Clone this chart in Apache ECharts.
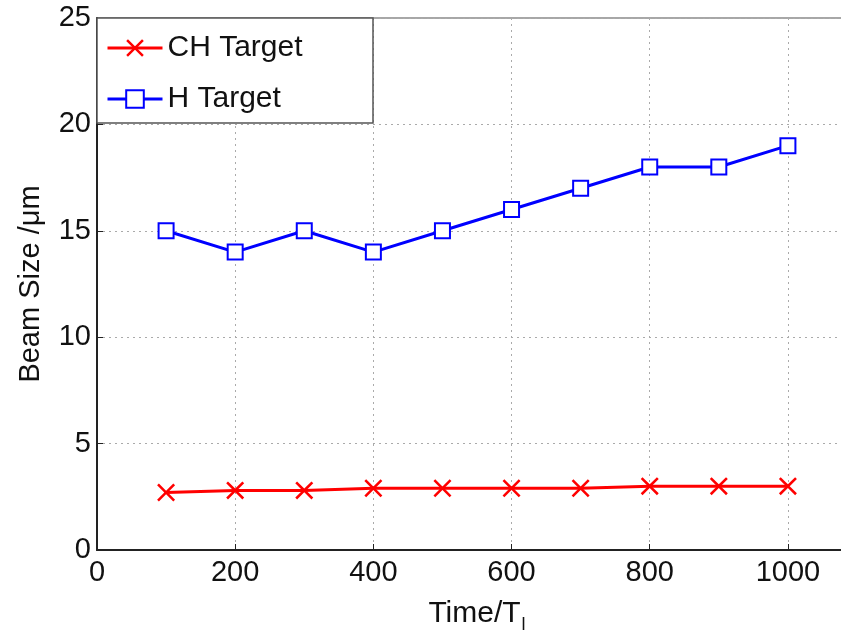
<!DOCTYPE html>
<html>
<head>
<meta charset="utf-8">
<script src="https://cdn.jsdelivr.net/npm/echarts@6/dist/echarts.min.js"></script>
<style>html,body{margin:0;padding:0;background:#fff;}#c{width:841px;height:630px;}</style>
</head>
<body>
<div id="c"></div>
<script>
var timeValues = [100, 200, 300, 400, 500, 600, 700, 800, 900, 1000];
var chTarget = [2.7, 2.8, 2.8, 2.9, 2.9, 2.9, 2.9, 3.0, 3.0, 3.0];
var hTarget = [15, 14, 15, 14, 15, 16, 17, 18, 18, 19];
var seriesNames = ['CH Target', 'H Target'];
var xAxisName = 'Time/T';
var yAxisName = 'Beam Size /\u03bcm';

function pairs(xs, ys) { return xs.map(function (x, i) { return [x, ys[i]]; }); }

var FONT = '"Liberation Sans", Arial, sans-serif';
var crossPath = 'path://M0,1L1,0L5,4L9,0L10,1L6,5L10,9L9,10L5,6L1,10L0,9L4,5Z';

var chart = echarts.init(document.getElementById('c'), null, {renderer: 'canvas'});
chart.setOption({
  backgroundColor: '#fff',
  animation: false,
  textStyle: {fontFamily: FONT},
  grid: {left: 97, top: 18, bottom: 80, width: 760, show: true, borderColor: '#8a8a8a', borderWidth: 1.5,
    containLabel: false, outerBoundsMode: 'none'},
  graphic: [{
    type: 'rect', z: 5, silent: true,
    shape: {x: 97, y: 18, width: 276, height: 105},
    style: {fill: '#fff', stroke: '#555', lineWidth: 1.5}
  }],
  legend: {
    orient: 'vertical', left: 101, top: 28, z: 10,
    itemWidth: 55, itemHeight: 22, itemGap: 21,
    lineStyle: {width: 3},
    textStyle: {fontSize: 30, color: '#111', fontFamily: FONT, lineHeight: 30},
    data: seriesNames
  },
  xAxis: {
    type: 'value', min: 0, max: 1100, interval: 200,
    name: xAxisName + '{sub|l}', nameLocation: 'middle', nameGap: 44,
    nameTextStyle: {fontSize: 30, color: '#111', fontFamily: FONT,
      rich: {sub: {fontSize: 18, color: '#111', fontFamily: FONT, padding: [22, 0, 0, 1]}}},
    axisLine: {show: true, lineStyle: {color: '#222', width: 2}},
    axisTick: {show: true, inside: true, length: 6, lineStyle: {color: '#222'}},
    axisLabel: {fontSize: 29, color: '#111', margin: 8, showMaxLabel: false, fontFamily: FONT,
      formatter: function (v) { return String(v); }},
    splitLine: {show: true, lineStyle: {color: '#aaa', type: [2, 4], width: 1}}
  },
  yAxis: {
    type: 'value', min: 0, max: 25, interval: 5,
    name: yAxisName, nameLocation: 'middle', nameGap: 52,
    nameTextStyle: {fontSize: 29, color: '#111', fontFamily: FONT},
    axisLine: {show: true, lineStyle: {color: '#222', width: 2}},
    axisTick: {show: true, inside: true, length: 6, lineStyle: {color: '#222'}},
    axisLabel: {fontSize: 29, color: '#111', margin: 6, fontFamily: FONT},
    splitLine: {show: true, lineStyle: {color: '#aaa', type: [2, 4], width: 1}}
  },
  series: [
    {
      name: seriesNames[0], type: 'line', data: pairs(timeValues, chTarget), z: 3,
      symbol: crossPath, symbolSize: 18, showAllSymbol: true,
      lineStyle: {color: '#ff0000', width: 3},
      itemStyle: {color: '#ff0000'}
    },
    {
      name: seriesNames[1], type: 'line', data: pairs(timeValues, hTarget), z: 3,
      symbol: 'emptyRect', symbolSize: 15, showAllSymbol: true,
      lineStyle: {color: '#0000ff', width: 3},
      itemStyle: {color: '#0000ff', borderColor: '#0000ff', borderWidth: 3}
    }
  ]
});
</script>
</body>
</html>
